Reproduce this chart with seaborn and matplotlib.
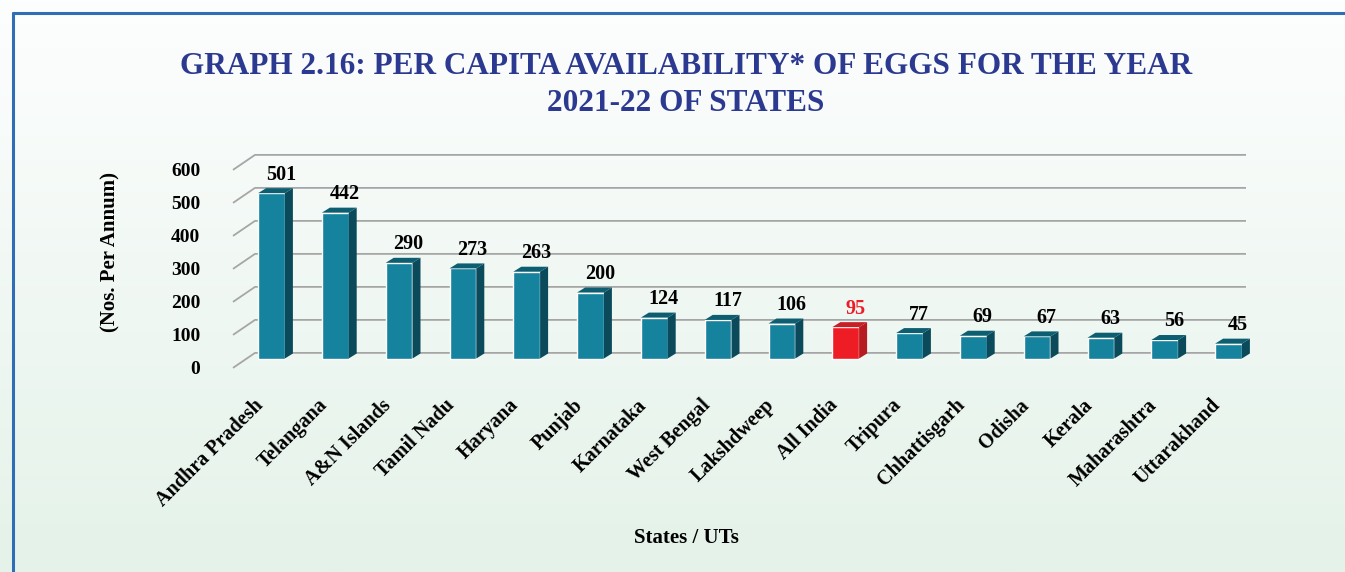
import numpy as np
import pandas as pd
import seaborn as sns
import matplotlib.pyplot as plt
from matplotlib.patches import Polygon
from matplotlib.lines import Line2D
from matplotlib.transforms import ScaledTranslation

# Data
states = ['Andhra Pradesh', 'Telangana', 'A&N Islands', 'Tamil Nadu', 'Haryana',
          'Punjab', 'Karnataka', 'West Bengal', 'Lakshdweep', 'All India',
          'Tripura', 'Chhattisgarh', 'Odisha', 'Kerala', 'Maharashtra', 'Uttarakhand']
eggs = [501, 442, 290, 273, 263, 200, 124, 117, 106, 95, 77, 69, 67, 63, 56, 45]
grid_levels = [0, 100, 200, 300, 400, 500, 600]
highlight = 'All India'

df = pd.DataFrame({'state': states, 'eggs': eggs})

# Colours
teal, teal_side, teal_top = '#15829E', '#0A4A5A', '#0D5E70'
red, red_side, red_top = '#EE1C25', '#B51B21', '#C81E25'
navy = '#2B3990'

sns.set_theme(style='white')
plt.rcParams['font.family'] = ['Liberation Serif', 'DejaVu Serif']
plt.rcParams['font.weight'] = 'bold'
plt.rcParams['text.color'] = 'black'
plt.rcParams['axes.labelcolor'] = 'black'
plt.rcParams['xtick.color'] = 'black'
plt.rcParams['ytick.color'] = 'black'

W, H = 1345, 572
fig = plt.figure(figsize=(W / 100, H / 100), dpi=100)

# Background gradient (white to pale mint)
bg = fig.add_axes([0, 0, 1, 1], zorder=-10)
top_c = np.array([253, 254, 254]) / 255
bot_c = np.array([228, 242, 233]) / 255
t = np.linspace(0, 1, 256)[:, None, None]
grad = top_c * (1 - t) + bot_c * t
grad = np.repeat(grad, 2, axis=1)
bg.imshow(grad, aspect='auto', extent=[0, 1, 0, 1])
bg.set_axis_off()

# Blue frame (top and left edges visible)
fig.add_artist(Line2D([12.5 / W, 1], [1 - 12.5 / H, 1 - 12.5 / H], color='#2F6DB5', lw=2.2))
fig.add_artist(Line2D([12.5 / W, 12.5 / W], [0, 1 - 12.5 / H], color='#2F6DB5', lw=2.2))

# Main axes, placed in pixel terms
ax_l, ax_r, ax_t, ax_b = 210, 1270, 140, 380
ax = fig.add_axes([ax_l / W, 1 - ax_b / H, (ax_r - ax_l) / W, (ax_b - ax_t) / H])
ax.set_facecolor('none')

px_per_cat = 63.8
px_per_unit = 0.33
x_first = 271.5     # pixel centre of first bar
y_zero = 358.5      # pixel of bar base

palette = {s: (red if s == highlight else teal) for s in states}
sns.barplot(data=df, x='state', y='eggs', hue='state', palette=palette,
            width=0.42, saturation=1, legend=False, ax=ax, zorder=3)

# 3-D look: back wall gridlines plus diagonal floor lines
wall_dy = 17
wall_x0 = (255 - x_first) / px_per_cat
wall_x1 = (1246 - x_first) / px_per_cat
floor_dx = -22 / px_per_cat
floor_dy = -15 / px_per_unit
for g in grid_levels:
    yb = g + wall_dy
    ax.plot([wall_x0 + floor_dx, wall_x0, wall_x1], [yb + floor_dy, yb, yb],
            color='#A6A6A6', lw=1.3, zorder=1, solid_capstyle='butt')

bar_dx = 8 / px_per_cat
bar_dy = 5 / px_per_unit
for patch, s, v in zip(ax.patches, states, eggs):
    x_l = patch.get_x()
    x_r = x_l + patch.get_width()
    side_c = red_side if s == highlight else teal_side
    top_col = red_top if s == highlight else teal_top
    ax.add_patch(Polygon([(x_r, 0), (x_r + bar_dx, bar_dy), (x_r + bar_dx, v + bar_dy), (x_r, v)],
                         closed=True, facecolor=side_c, edgecolor='none', zorder=3))
    ax.add_patch(Polygon([(x_l, v), (x_l + bar_dx, v + bar_dy), (x_r + bar_dx, v + bar_dy), (x_r, v)],
                         closed=True, facecolor=top_col, edgecolor='none', zorder=3))
    ax.text(patch.get_x() + patch.get_width() / 2 + 0.15, v + bar_dy + 26, str(v),
            ha='center', va='baseline', fontsize=14.5, fontweight='bold',
            color=red if s == highlight else 'black', zorder=4)

ax.set_xlim((ax_l - x_first) / px_per_cat, (ax_r - x_first) / px_per_cat)
ax.set_ylim((y_zero - ax_b) / px_per_unit, (y_zero - ax_t) / px_per_unit)

# Y tick labels at the front ends of the floor diagonals
ax.set_yticks([g + wall_dy + floor_dy for g in grid_levels])
ax.set_yticklabels([str(g) for g in grid_levels])
ax.tick_params(axis='y', length=0, pad=7, labelsize=14, labelcolor='black')
ax.tick_params(axis='x', length=0, pad=11, labelsize=14.5, labelcolor='black')
shift = ScaledTranslation(-18 / 100, 0, fig.dpi_scale_trans)
for lbl in ax.get_xticklabels():
    lbl.set_rotation(45)
    lbl.set_ha('right')
    lbl.set_va('top')
    lbl.set_rotation_mode('anchor')
    lbl.set_transform(lbl.get_transform() + shift)
for lbl in ax.get_xticklabels() + ax.get_yticklabels():
    lbl.set_fontweight('bold')

for sp in ax.spines.values():
    sp.set_visible(False)
ax.grid(False)

ax.set_xlabel('States / UTs', fontsize=15, fontweight='bold', color='black')
ax.xaxis.set_label_coords((686 - ax_l) / (ax_r - ax_l), (ax_b - 538) / (ax_b - ax_t))
ax.xaxis.label.set_va('center')
ax.set_ylabel('(Nos. Per Annum)', fontsize=15, fontweight='bold', color='black')
ax.yaxis.set_label_coords((110 - ax_l) / (ax_r - ax_l), (ax_b - 252) / (ax_b - ax_t))
ax.yaxis.label.set_va('center')

fig.text(686 / W, 1 - 85 / H,
         'GRAPH 2.16: PER CAPITA AVAILABILITY* OF EGGS FOR THE YEAR\n2021-22 OF STATES',
         ha='center', va='center', fontsize=22.5, fontweight='bold', color=navy,
         linespacing=1.35)

fig.savefig('out.png', dpi=100)
